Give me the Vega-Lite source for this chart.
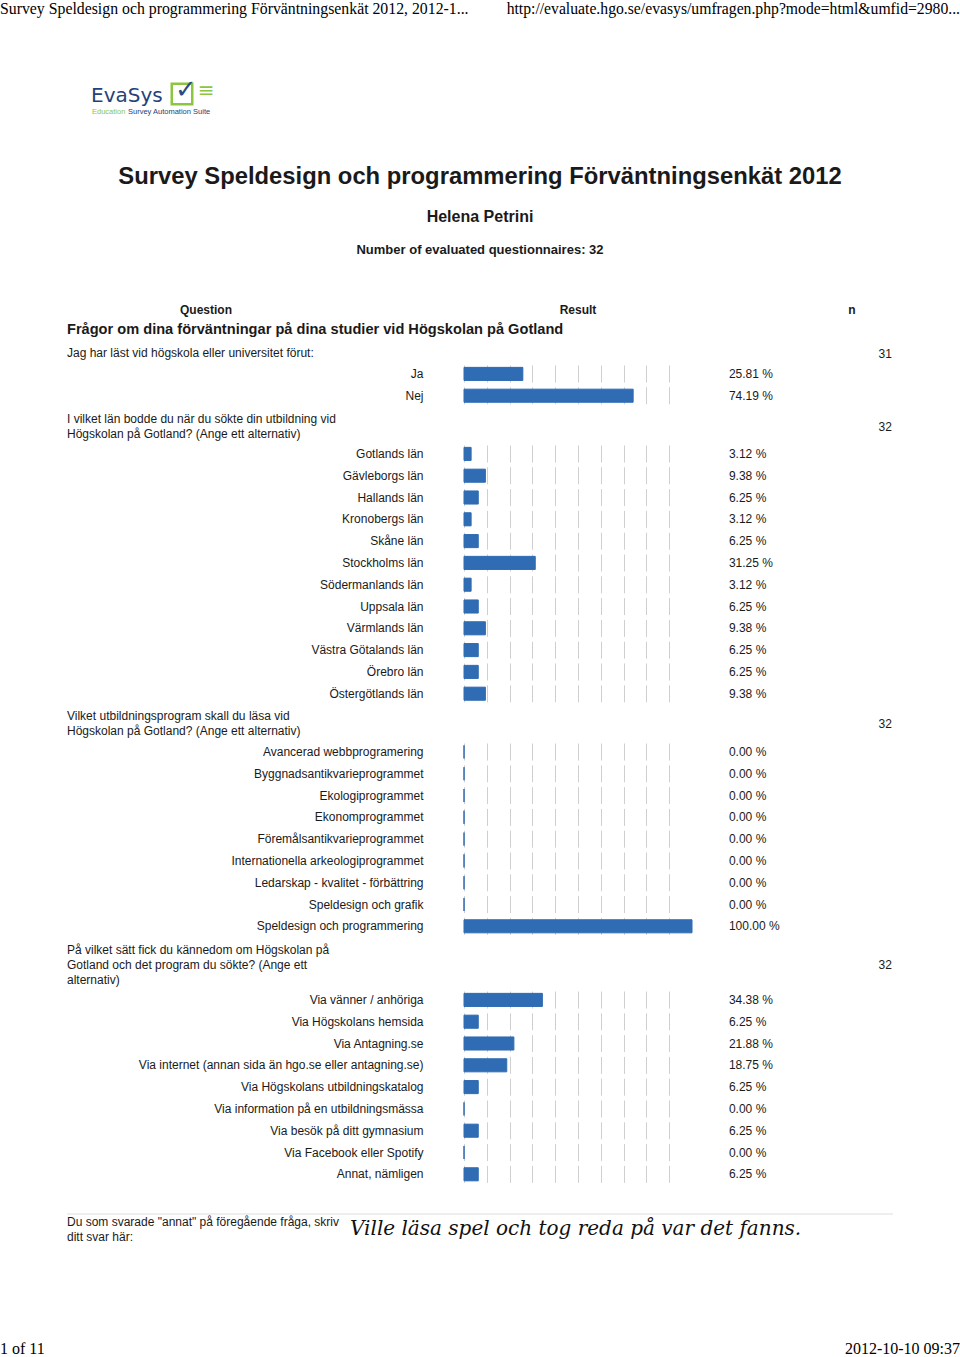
{
  "$schema": "https://vega.github.io/schema/vega-lite/v6.json",
  "padding": 0,
  "background": "white",
  "spacing": 5,
  "config": {
    "view": {"stroke": null},
    "font": "Liberation Sans",
    "text": {"font": "Liberation Sans", "color": "#1a1a1a", "baseline": "middle"},
    "title": {"font": "Liberation Sans", "color": "#1a1a1a"}
  },
  "resolve": {"scale": {"x": "independent", "y": "independent"}},
  "datasets": {
    "meta": [
      {
        "browserTitle": "Survey Speldesign och programmering Förväntningsenkät 2012, 2012-1...",
        "url": "http://evaluate.hgo.se/evasys/umfragen.php?mode=html&umfid=2980...",
        "brand": "EvaSys",
        "tag1": "Education",
        "tag2": "Survey Automation Suite",
        "survey": "Survey Speldesign och programmering Förväntningsenkät 2012",
        "teacher": "Helena Petrini",
        "responses": "Number of evaluated questionnaires: 32",
        "colQuestion": "Question",
        "colResult": "Result",
        "colN": "n",
        "section": "Frågor om dina förväntningar på dina studier vid Högskolan på Gotland",
        "openQuestion": ["Du som svarade \"annat\" på föregående fråga, skriv", "ditt svar här:"],
        "openAnswer": "Ville läsa spel och tog reda på var det fanns.",
        "page": "1 of 11",
        "printed": "2012-10-10 09:37"
      }
    ],
    "answers": [
      {"q": 1, "option": "Ja", "pct": 25.81, "n": 31},
      {"q": 1, "option": "Nej", "pct": 74.19, "n": 31},
      {"q": 2, "option": "Gotlands län", "pct": 3.12, "n": 32},
      {"q": 2, "option": "Gävleborgs län", "pct": 9.38, "n": 32},
      {"q": 2, "option": "Hallands län", "pct": 6.25, "n": 32},
      {"q": 2, "option": "Kronobergs län", "pct": 3.12, "n": 32},
      {"q": 2, "option": "Skåne län", "pct": 6.25, "n": 32},
      {"q": 2, "option": "Stockholms län", "pct": 31.25, "n": 32},
      {"q": 2, "option": "Södermanlands län", "pct": 3.12, "n": 32},
      {"q": 2, "option": "Uppsala län", "pct": 6.25, "n": 32},
      {"q": 2, "option": "Värmlands län", "pct": 9.38, "n": 32},
      {"q": 2, "option": "Västra Götalands län", "pct": 6.25, "n": 32},
      {"q": 2, "option": "Örebro län", "pct": 6.25, "n": 32},
      {"q": 2, "option": "Östergötlands län", "pct": 9.38, "n": 32},
      {"q": 3, "option": "Avancerad webbprogramering", "pct": 0, "n": 32},
      {"q": 3, "option": "Byggnadsantikvarieprogrammet", "pct": 0, "n": 32},
      {"q": 3, "option": "Ekologiprogrammet", "pct": 0, "n": 32},
      {"q": 3, "option": "Ekonomprogrammet", "pct": 0, "n": 32},
      {"q": 3, "option": "Föremålsantikvarieprogrammet", "pct": 0, "n": 32},
      {"q": 3, "option": "Internationella arkeologiprogrammet", "pct": 0, "n": 32},
      {"q": 3, "option": "Ledarskap - kvalitet - förbättring", "pct": 0, "n": 32},
      {"q": 3, "option": "Speldesign och grafik", "pct": 0, "n": 32},
      {"q": 3, "option": "Speldesign och programmering", "pct": 100, "n": 32},
      {"q": 4, "option": "Via vänner / anhöriga", "pct": 34.38, "n": 32},
      {"q": 4, "option": "Via Högskolans hemsida", "pct": 6.25, "n": 32},
      {"q": 4, "option": "Via Antagning.se", "pct": 21.88, "n": 32},
      {"q": 4, "option": "Via internet (annan sida än hgo.se eller antagning.se)", "pct": 18.75, "n": 32},
      {"q": 4, "option": "Via Högskolans utbildningskatalog", "pct": 6.25, "n": 32},
      {"q": 4, "option": "Via information på en utbildningsmässa", "pct": 0, "n": 32},
      {"q": 4, "option": "Via besök på ditt gymnasium", "pct": 6.25, "n": 32},
      {"q": 4, "option": "Via Facebook eller Spotify", "pct": 0, "n": 32},
      {"q": 4, "option": "Annat, nämligen", "pct": 6.25, "n": 32}
    ]
  },
  "vconcat": [
    {
      "width": 960,
      "height": 341,
      "data": {"name": "meta"},
      "layer": [
        {"mark": {"type": "text", "align": "left", "font": "Liberation Serif", "fontSize": 15.8, "color": "#000"},
         "encoding": {"x": {"datum": 0, "scale": {"domain": [0, 960], "nice": false, "zero": false}, "axis": null},
                      "y": {"datum": 9, "scale": {"domain": [0, 341], "nice": false, "zero": false, "reverse": true}, "axis": null},
                      "text": {"field": "browserTitle"}}},
        {"mark": {"type": "text", "align": "right", "font": "Liberation Serif", "fontSize": 15.7, "color": "#000"},
         "encoding": {"x": {"datum": 960}, "y": {"datum": 9}, "text": {"field": "url"}}},
        {"mark": {"type": "text", "align": "left", "font": "DejaVu Sans", "fontSize": 20, "color": "#24427a"},
         "encoding": {"x": {"datum": 91}, "y": {"datum": 96}, "text": {"field": "brand"}}},
        {"mark": {"type": "point", "shape": "square", "filled": false, "size": 420, "stroke": "#8cc63e", "strokeWidth": 2.5, "opacity": 1},
         "encoding": {"x": {"datum": 182}, "y": {"datum": 94}}},
        {"mark": {"type": "text", "align": "center", "font": "DejaVu Sans", "fontSize": 26, "fontWeight": "bold", "color": "#2b4a85", "text": "✓"},
         "encoding": {"x": {"datum": 186}, "y": {"datum": 90}}},
        {"mark": {"type": "text", "align": "center", "font": "DejaVu Sans", "fontSize": 20, "color": "#8cc63e", "text": "≡"},
         "encoding": {"x": {"datum": 206}, "y": {"datum": 91}}},
        {"mark": {"type": "text", "align": "left", "fontSize": 7.5, "color": "#8cc63e"},
         "encoding": {"x": {"datum": 92}, "y": {"datum": 112}, "text": {"field": "tag1"}}},
        {"mark": {"type": "text", "align": "left", "fontSize": 7.5, "color": "#24427a"},
         "encoding": {"x": {"datum": 128}, "y": {"datum": 112}, "text": {"field": "tag2"}}},
        {"mark": {"type": "text", "align": "center", "fontSize": 23.8, "fontWeight": "bold"},
         "encoding": {"x": {"datum": 480}, "y": {"datum": 177}, "text": {"field": "survey"}}},
        {"mark": {"type": "text", "align": "center", "fontSize": 16, "fontWeight": "bold"},
         "encoding": {"x": {"datum": 480}, "y": {"datum": 217}, "text": {"field": "teacher"}}},
        {"mark": {"type": "text", "align": "center", "fontSize": 13, "fontWeight": "bold"},
         "encoding": {"x": {"datum": 480}, "y": {"datum": 250}, "text": {"field": "responses"}}},
        {"mark": {"type": "text", "align": "center", "fontSize": 12, "fontWeight": "bold"},
         "encoding": {"x": {"datum": 206}, "y": {"datum": 310}, "text": {"field": "colQuestion"}}},
        {"mark": {"type": "text", "align": "center", "fontSize": 12, "fontWeight": "bold"},
         "encoding": {"x": {"datum": 578}, "y": {"datum": 310}, "text": {"field": "colResult"}}},
        {"mark": {"type": "text", "align": "center", "fontSize": 12, "fontWeight": "bold"},
         "encoding": {"x": {"datum": 852}, "y": {"datum": 310}, "text": {"field": "colN"}}},
        {"mark": {"type": "text", "align": "left", "fontSize": 14.6, "fontWeight": "bold"},
         "encoding": {"x": {"datum": 67}, "y": {"datum": 330}, "text": {"field": "section"}}}
      ]
    },
    {
      "width": 960,
      "height": 43.6,
      "title": {"text": ["Jag har läst vid högskola eller universitet förut:"], "anchor": "start", "frame": "group", "dx": 67, "fontSize": 12, "fontWeight": "normal", "lineHeight": 15, "offset": -12},
      "data": {"name": "answers"},
      "transform": [{"filter": "datum.q == 1"}],
      "encoding": {
        "y": {"field": "option", "type": "nominal", "sort": null,
              "scale": {"paddingInner": 0.4, "paddingOuter": 0.2},
              "axis": {"orient": "left", "offset": -423, "labelPadding": 0, "ticks": false, "tickSize": 0, "domain": false, "title": null, "labelFontSize": 12, "labelFont": "Liberation Sans", "labelColor": "#1a1a1a", "labelLimit": 600}}
      },
      "layer": [
        {"mark": {"type": "bar", "color": "#2f6cb3", "stroke": "#2f6cb3", "strokeWidth": 1},
         "encoding": {"x": {"field": "pct", "type": "quantitative", "scale": {"domain": [0, 100], "range": [464, 692], "nice": false},
                            "axis": {"orient": "top", "values": [0, 10, 20, 30, 40, 50, 60, 70, 80, 90], "grid": true, "gridColor": "#cfcfcf", "gridDash": [17, 4.8], "gridDashOffset": 19.8, "labels": false, "ticks": false, "domain": false, "title": null, "minExtent": 0, "maxExtent": 0}}}},
        {"mark": {"type": "text", "align": "left", "fontSize": 12, "text": {"expr": "format(datum.pct, '.2f') + ' %'"}},
         "encoding": {"x": {"datum": 116.2}}},
        {"transform": [{"filter": "datum.option == 'Ja'"}],
         "mark": {"type": "text", "align": "right", "fontSize": 12, "dy": -20},
         "encoding": {"x": {"datum": 187.7}, "text": {"field": "n"}}}
      ]
    },
    {
      "width": 960,
      "height": 261.6,
      "title": {"text": ["I vilket län bodde du när du sökte din utbildning vid", "Högskolan på Gotland? (Ange ett alternativ)"], "anchor": "start", "frame": "group", "dx": 67, "fontSize": 12, "fontWeight": "normal", "lineHeight": 15, "offset": -20},
      "data": {"name": "answers"},
      "transform": [{"filter": "datum.q == 2"}],
      "encoding": {
        "y": {"field": "option", "type": "nominal", "sort": null,
              "scale": {"paddingInner": 0.4, "paddingOuter": 0.2},
              "axis": {"orient": "left", "offset": -423, "labelPadding": 0, "ticks": false, "tickSize": 0, "domain": false, "title": null, "labelFontSize": 12, "labelFont": "Liberation Sans", "labelColor": "#1a1a1a", "labelLimit": 600}}
      },
      "layer": [
        {"mark": {"type": "bar", "color": "#2f6cb3", "stroke": "#2f6cb3", "strokeWidth": 1},
         "encoding": {"x": {"field": "pct", "type": "quantitative", "scale": {"domain": [0, 100], "range": [464, 692], "nice": false},
                            "axis": {"orient": "top", "values": [0, 10, 20, 30, 40, 50, 60, 70, 80, 90], "grid": true, "gridColor": "#cfcfcf", "gridDash": [17, 4.8], "gridDashOffset": 19.8, "labels": false, "ticks": false, "domain": false, "title": null, "minExtent": 0, "maxExtent": 0}}}},
        {"mark": {"type": "text", "align": "left", "fontSize": 12, "text": {"expr": "format(datum.pct, '.2f') + ' %'"}},
         "encoding": {"x": {"datum": 116.2}}},
        {"transform": [{"filter": "datum.option == 'Gotlands län'"}],
         "mark": {"type": "text", "align": "right", "fontSize": 12, "dy": -27},
         "encoding": {"x": {"datum": 187.7}, "text": {"field": "n"}}}
      ]
    },
    {
      "width": 960,
      "height": 196.2,
      "title": {"text": ["Vilket utbildningsprogram skall du läsa vid", "Högskolan på Gotland? (Ange ett alternativ)"], "anchor": "start", "frame": "group", "dx": 67, "fontSize": 12, "fontWeight": "normal", "lineHeight": 15, "offset": -20},
      "data": {"name": "answers"},
      "transform": [{"filter": "datum.q == 3"}],
      "encoding": {
        "y": {"field": "option", "type": "nominal", "sort": null,
              "scale": {"paddingInner": 0.4, "paddingOuter": 0.2},
              "axis": {"orient": "left", "offset": -423, "labelPadding": 0, "ticks": false, "tickSize": 0, "domain": false, "title": null, "labelFontSize": 12, "labelFont": "Liberation Sans", "labelColor": "#1a1a1a", "labelLimit": 600}}
      },
      "layer": [
        {"mark": {"type": "bar", "color": "#2f6cb3", "stroke": "#2f6cb3", "strokeWidth": 1},
         "encoding": {"x": {"field": "pct", "type": "quantitative", "scale": {"domain": [0, 100], "range": [464, 692], "nice": false},
                            "axis": {"orient": "top", "values": [0, 10, 20, 30, 40, 50, 60, 70, 80, 90], "grid": true, "gridColor": "#cfcfcf", "gridDash": [17, 4.8], "gridDashOffset": 19.8, "labels": false, "ticks": false, "domain": false, "title": null, "minExtent": 0, "maxExtent": 0}}}},
        {"mark": {"type": "text", "align": "left", "fontSize": 12, "text": {"expr": "format(datum.pct, '.2f') + ' %'"}},
         "encoding": {"x": {"datum": 116.2}}},
        {"transform": [{"filter": "datum.option == 'Avancerad webbprogramering'"}],
         "mark": {"type": "text", "align": "right", "fontSize": 12, "dy": -27.5},
         "encoding": {"x": {"datum": 187.7}, "text": {"field": "n"}}}
      ]
    },
    {
      "width": 960,
      "height": 196.2,
      "title": {"text": ["På vilket sätt fick du kännedom om Högskolan på", "Gotland och det program du sökte? (Ange ett", "alternativ)"], "anchor": "start", "frame": "group", "dx": 67, "fontSize": 12, "fontWeight": "normal", "lineHeight": 15, "offset": -28},
      "data": {"name": "answers"},
      "transform": [{"filter": "datum.q == 4"}],
      "encoding": {
        "y": {"field": "option", "type": "nominal", "sort": null,
              "scale": {"paddingInner": 0.4, "paddingOuter": 0.2},
              "axis": {"orient": "left", "offset": -423, "labelPadding": 0, "ticks": false, "tickSize": 0, "domain": false, "title": null, "labelFontSize": 12, "labelFont": "Liberation Sans", "labelColor": "#1a1a1a", "labelLimit": 600}}
      },
      "layer": [
        {"mark": {"type": "bar", "color": "#2f6cb3", "stroke": "#2f6cb3", "strokeWidth": 1},
         "encoding": {"x": {"field": "pct", "type": "quantitative", "scale": {"domain": [0, 100], "range": [464, 692], "nice": false},
                            "axis": {"orient": "top", "values": [0, 10, 20, 30, 40, 50, 60, 70, 80, 90], "grid": true, "gridColor": "#cfcfcf", "gridDash": [17, 4.8], "gridDashOffset": 19.8, "labels": false, "ticks": false, "domain": false, "title": null, "minExtent": 0, "maxExtent": 0}}}},
        {"mark": {"type": "text", "align": "left", "fontSize": 12, "text": {"expr": "format(datum.pct, '.2f') + ' %'"}},
         "encoding": {"x": {"datum": 116.2}}},
        {"transform": [{"filter": "datum.option == 'Via vänner / anhöriga'"}],
         "mark": {"type": "text", "align": "right", "fontSize": 12, "dy": -35},
         "encoding": {"x": {"datum": 187.7}, "text": {"field": "n"}}}
      ]
    },
    {
      "width": 960,
      "height": 167,
      "data": {"name": "meta"},
      "layer": [
        {"mark": {"type": "rule", "color": "#dddddd", "strokeWidth": 1},
         "encoding": {"x": {"datum": 67, "scale": {"domain": [0, 960], "nice": false, "zero": false}, "axis": null},
                      "x2": {"datum": 893},
                      "y": {"datum": 23, "scale": {"domain": [0, 167], "nice": false, "zero": false, "reverse": true}, "axis": null}}},
        {"mark": {"type": "text", "align": "left", "baseline": "top", "fontSize": 12, "lineHeight": 15},
         "encoding": {"x": {"datum": 67}, "y": {"datum": 26}, "text": {"field": "openQuestion"}}},
        {"mark": {"type": "text", "align": "left", "font": "DejaVu Serif", "fontStyle": "italic", "fontSize": 20, "color": "#111"},
         "encoding": {"x": {"datum": 350}, "y": {"datum": 38}, "text": {"field": "openAnswer"}}},
        {"mark": {"type": "text", "align": "left", "font": "Liberation Serif", "fontSize": 16, "color": "#000"},
         "encoding": {"x": {"datum": 0}, "y": {"datum": 158}, "text": {"field": "page"}}},
        {"mark": {"type": "text", "align": "right", "font": "Liberation Serif", "fontSize": 16, "color": "#000"},
         "encoding": {"x": {"datum": 960}, "y": {"datum": 158}, "text": {"field": "printed"}}}
      ]
    }
  ]
}
